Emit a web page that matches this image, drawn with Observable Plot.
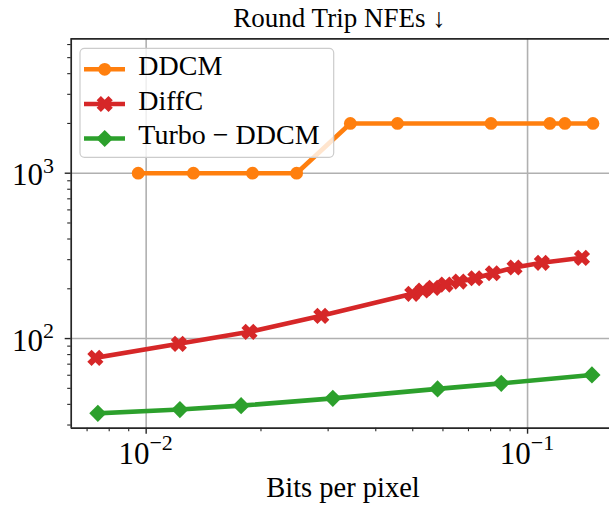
<!DOCTYPE html>
<html>
<head>
<meta charset="utf-8">
<script src="https://cdn.jsdelivr.net/npm/d3@7"></script>
<script src="https://cdn.jsdelivr.net/npm/@observablehq/plot@0.6"></script>
<style>
  html, body { margin: 0; padding: 0; background: white; }
  svg { display: block; }
</style>
</head>
<body>
<div id="chart"></div>
<script>
// ---- data ----
const titleText = "Round Trip NFEs \u2193";
const xLabel = "Bits per pixel";
const seriesNames = ["DDCM", "DiffC", "Turbo \u2212 DDCM"];
const seriesColors = ["#ff7f0e", "#d62728", "#2ca02c"];

const ddcmBpp = [0.00953, 0.0133, 0.0190, 0.0248, 0.0343, 0.0456, 0.0802, 0.1144, 0.1253, 0.1484];
const ddcmNfe = [1000, 1000, 1000, 1000, 2000, 2000, 2000, 2000, 2000, 2000];
const diffcBpp = [0.00736, 0.01218, 0.01866, 0.02878, 0.04985, 0.05314, 0.05662, 0.06095, 0.06632, 0.07296, 0.0811, 0.09245, 0.109, 0.1389];
const diffcNfe = [76.4, 92.9, 109.8, 137.2, 186.4, 195.2, 202.6, 212.1, 221.2, 231.6, 248.3, 268.9, 287.1, 307.7];
const turboBpp = [0.00747, 0.01226, 0.01774, 0.03086, 0.05808, 0.08532, 0.1475];
const turboNfe = [35.3, 37.2, 39.3, 43.5, 49.6, 53.6, 60.3];

const xDomain = [0.00636, 0.164];
const yDomain = [28.7, 6500];
const xMajor = [0.01, 0.1];
const xMajorLabels = ["\u22122", "\u22121"];
const xMinor = [0.007, 0.008, 0.009, 0.02, 0.03, 0.04, 0.05, 0.06, 0.07, 0.08, 0.09];
const yMajor = [100, 1000];
const yMajorLabels = ["2", "3"];
const yMinor = [30, 40, 50, 60, 70, 80, 90, 200, 300, 400, 500, 600, 700, 800, 900, 2000, 3000, 4000, 5000, 6000];

// ---- build tables ----
const ddcm = ddcmBpp.map((b, i) => ({bpp: b, nfe: ddcmNfe[i]}));
const diffc = diffcBpp.map((b, i) => ({bpp: b, nfe: diffcNfe[i]}));
const turbo = turboBpp.map((b, i) => ({bpp: b, nfe: turboNfe[i]}));

// ---- custom symbols (matplotlib-like) ----
const symCircle = {draw(ctx, size) { const r = Math.sqrt(size / Math.PI); ctx.moveTo(r, 0); ctx.arc(0, 0, r, 0, 2 * Math.PI); ctx.closePath(); }};
const symX = {draw(ctx, size) {
  const r = Math.sqrt(size / Math.PI);
  const L = r, w = r * 0.36;
  const pts = [[w, w], [w, L], [-w, L], [-w, w], [-L, w], [-L, -w], [-w, -w], [-w, -L], [w, -L], [w, -w], [L, -w], [L, w]];
  const c = Math.SQRT1_2;
  pts.forEach(([px, py], i) => {
    const X = (px - py) * c, Y = (px + py) * c;
    if (i === 0) ctx.moveTo(X, Y); else ctx.lineTo(X, Y);
  });
  ctx.closePath();
}};
const symDiamond = {draw(ctx, size) { const r = Math.sqrt(size / Math.PI); ctx.moveTo(0, -r); ctx.lineTo(r, 0); ctx.lineTo(0, r); ctx.lineTo(-r, 0); ctx.closePath(); }};
const symbols = [symCircle, symX, symDiamond];
const symR = [6.4, 8.4, 8.6];

const tables = [ddcm, diffc, turbo];
const spine = "#262626";

const marks = [
  Plot.gridX(xMajor, {stroke: "#b0b0b0", strokeOpacity: 1, strokeWidth: 1.6}),
  Plot.gridY(yMajor, {stroke: "#b0b0b0", strokeOpacity: 1, strokeWidth: 1.6}),
  Plot.axisX(xMajor, {tickSize: 6, tickFormat: () => "", stroke: spine, strokeWidth: 1.4, label: null}),
  Plot.axisX(xMinor, {tickSize: 3.5, tickFormat: () => "", stroke: spine, strokeWidth: 1.1, label: null}),
  Plot.axisY(yMajor, {tickSize: 6, tickFormat: () => "", stroke: spine, strokeWidth: 1.4, label: null}),
  Plot.axisY(yMinor, {tickSize: 3.5, tickFormat: () => "", stroke: spine, strokeWidth: 1.1, label: null}),
];
tables.forEach((t, k) => {
  marks.push(Plot.line(t, {x: "bpp", y: "nfe", stroke: seriesColors[k], strokeWidth: 4.6, strokeLinejoin: "round", strokeLinecap: "square"}));
  marks.push(Plot.dot(t, {x: "bpp", y: "nfe", fill: seriesColors[k], r: symR[k], symbol: symbols[k]}));
});
marks.push(
  Plot.ruleX([xDomain[0]], {stroke: spine, strokeWidth: 1.7}),
  Plot.ruleY([yDomain[0]], {stroke: spine, strokeWidth: 1.7}),
  Plot.ruleY([yDomain[1]], {stroke: spine, strokeWidth: 1.7})
);

const W = 609, H = 506;
const plot = Plot.plot({
  width: W, height: H,
  marginTop: 38.3, marginBottom: 78.3, marginLeft: 70.7, marginRight: 0,
  x: {type: "log", domain: xDomain},
  y: {type: "log", domain: yDomain},
  style: {fontFamily: "'Liberation Serif', serif", background: "white", overflow: "visible"},
  marks
});
document.getElementById("chart").appendChild(plot);

const svg = d3.select(plot);
const xs = plot.scale("x"), ys = plot.scale("y");
const font = "'Liberation Serif', serif";

// tick labels with superscripts
xMajor.forEach((v, i) => {
  const t = svg.append("text").attr("x", xs.apply(v)).attr("y", 463.5)
    .attr("text-anchor", "middle").attr("font-family", font).attr("font-size", 31).attr("fill", "#000");
  t.append("tspan").text("10");
  t.append("tspan").attr("font-size", 22).attr("dy", -13.5).text(xMajorLabels[i]);
});
yMajor.forEach((v, i) => {
  const t = svg.append("text").attr("x", 54).attr("y", ys.apply(v) + 12.5)
    .attr("text-anchor", "end").attr("font-family", font).attr("font-size", 31).attr("fill", "#000");
  t.append("tspan").text("10");
  t.append("tspan").attr("font-size", 22).attr("dy", -12.7).text(yMajorLabels[i]);
});

// title & axis label
svg.append("text").attr("x", 339.5).attr("y", 26.7).attr("text-anchor", "middle")
  .attr("font-family", font).attr("font-size", 27).attr("fill", "#000").text(titleText);
svg.append("text").attr("x", 343).attr("y", 497.3).attr("text-anchor", "middle")
  .attr("font-family", font).attr("font-size", 28.5).attr("fill", "#000").text(xLabel);

// legend
const lg = svg.append("g");
lg.append("rect").attr("x", 80).attr("y", 48.3).attr("width", 253.7).attr("height", 109)
  .attr("rx", 4.5).attr("fill", "white").attr("fill-opacity", 0.8).attr("stroke", "#cccccc").attr("stroke-width", 1.2);
const rowY = [69.3, 104, 138.5];
seriesNames.forEach((name, k) => {
  const y = rowY[k];
  lg.append("line").attr("x1", 84).attr("x2", 125).attr("y1", y).attr("y2", y)
    .attr("stroke", seriesColors[k]).attr("stroke-width", 4.6);
  lg.append("path").attr("transform", `translate(104.7,${y})`)
    .attr("d", d3.symbol(symbols[k], symR[k] * symR[k] * Math.PI)()).attr("fill", seriesColors[k]);
  lg.append("text").attr("x", 138.3).attr("y", y + 5.5).attr("text-anchor", "start")
    .attr("font-family", font).attr("font-size", 28).attr("fill", "#000").text(name);
});
</script>
</body>
</html>
